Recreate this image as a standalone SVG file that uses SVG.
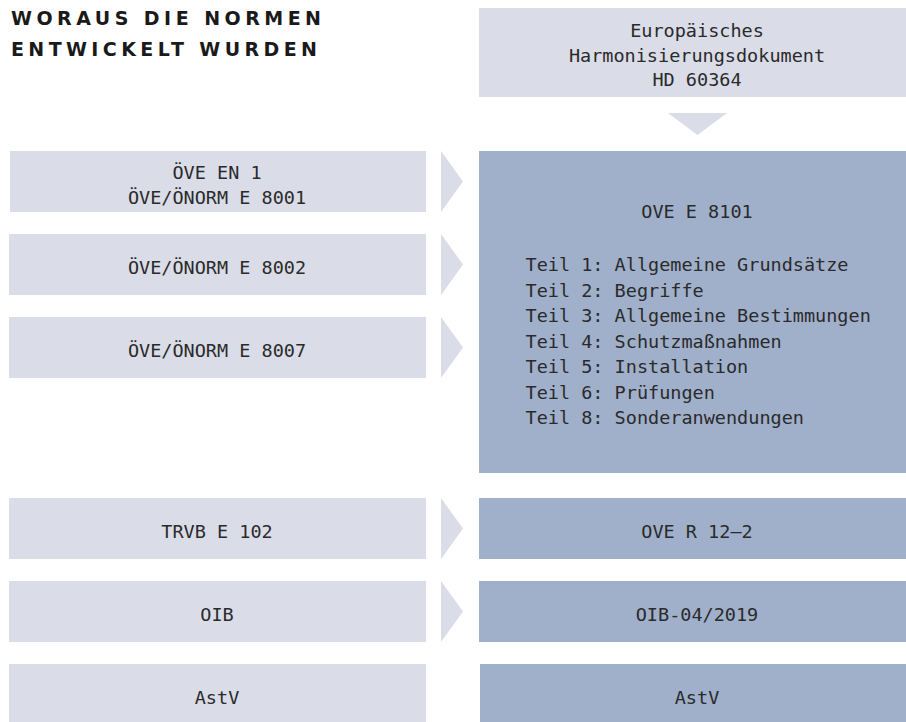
<svg xmlns="http://www.w3.org/2000/svg" width="906" height="722" viewBox="0 0 906 722">
  <defs>
    <style>
      .light { fill: #dadde8; }
      .dark { fill: #a0b0ca; }
      .arrow { fill: #dadde8; }
      .t { font-family: "DejaVu Sans Mono", "Liberation Mono", monospace; font-size: 18.5px; fill: #2a2a2a; text-anchor: middle; }
      .tl { font-family: "DejaVu Sans Mono", "Liberation Mono", monospace; font-size: 18.5px; fill: #2a2a2a; }
      .title { font-family: "DejaVu Sans", "Liberation Sans", sans-serif; font-weight: bold; font-size: 19px; fill: #1a1a1a; }
    </style>
  </defs>
  <rect width="906" height="722" fill="#ffffff"/>

  <g id="title">
    <text class="title" x="11" y="24.5" textLength="310" lengthAdjust="spacing">WORAUS DIE NORMEN</text>
    <text class="title" x="11" y="56" textLength="306" lengthAdjust="spacing">ENTWICKELT WURDEN</text>
  </g>

  <g id="hd60364">
    <rect class="light" x="479" y="8" width="427" height="89"/>
    <text class="t" x="697" y="37">Europäisches</text>
    <text class="t" x="697" y="62">Harmonisierungsdokument</text>
    <text class="t" x="697" y="86">HD 60364</text>
  </g>

  <g id="ove-en1">
    <rect class="light" x="10" y="151" width="416" height="61"/>
    <text class="t" x="217" y="179">ÖVE EN 1</text>
    <text class="t" x="217" y="204">ÖVE/ÖNORM E 8001</text>
  </g>
  <g id="ove-8002">
    <rect class="light" x="9" y="234" width="417" height="61"/>
    <text class="t" x="217" y="274">ÖVE/ÖNORM E 8002</text>
  </g>
  <g id="ove-8007">
    <rect class="light" x="9" y="317" width="417" height="61"/>
    <text class="t" x="217" y="357">ÖVE/ÖNORM E 8007</text>
  </g>

  <g id="ove-e8101">
    <rect class="dark" x="479" y="151" width="427" height="322"/>
    <text class="t" x="697" y="218">OVE E 8101</text>
    <text class="tl" x="525.5" y="271">Teil 1: Allgemeine Grundsätze</text>
    <text class="tl" x="525.5" y="296.5">Teil 2: Begriffe</text>
    <text class="tl" x="525.5" y="322">Teil 3: Allgemeine Bestimmungen</text>
    <text class="tl" x="525.5" y="347.5">Teil 4: Schutzmaßnahmen</text>
    <text class="tl" x="525.5" y="373">Teil 5: Installation</text>
    <text class="tl" x="525.5" y="398.5">Teil 6: Prüfungen</text>
    <text class="tl" x="525.5" y="424">Teil 8: Sonderanwendungen</text>
  </g>

  <g id="trvb">
    <rect class="light" x="9" y="498" width="417" height="61"/>
    <text class="t" x="217" y="538">TRVB E 102</text>
  </g>
  <g id="oib">
    <rect class="light" x="9" y="581" width="417" height="61"/>
    <text class="t" x="217" y="621">OIB</text>
  </g>
  <g id="astv-left">
    <rect class="light" x="9" y="664" width="417" height="58"/>
    <text class="t" x="217" y="704">AstV</text>
  </g>

  <g id="ove-r12">
    <rect class="dark" x="479" y="498" width="427" height="61"/>
    <text class="t" x="697" y="538">OVE R 12–2</text>
  </g>
  <g id="oib-2019">
    <rect class="dark" x="479" y="581" width="427" height="61"/>
    <text class="t" x="697" y="621">OIB-04/2019</text>
  </g>
  <g id="astv-right">
    <rect class="dark" x="480" y="664" width="426" height="58"/>
    <text class="t" x="697" y="704">AstV</text>
  </g>

  <g id="connectors">
    <polygon class="arrow" points="668,113 727,113 697.5,135"/>
    <polygon class="arrow" points="441,151 463,181.5 441,212"/>
    <polygon class="arrow" points="441,234 463,264.5 441,295"/>
    <polygon class="arrow" points="441,317 463,347.5 441,378"/>
    <polygon class="arrow" points="441,498 463,528.5 441,559"/>
    <polygon class="arrow" points="441,581 463,611.5 441,642"/>
  </g>
</svg>
